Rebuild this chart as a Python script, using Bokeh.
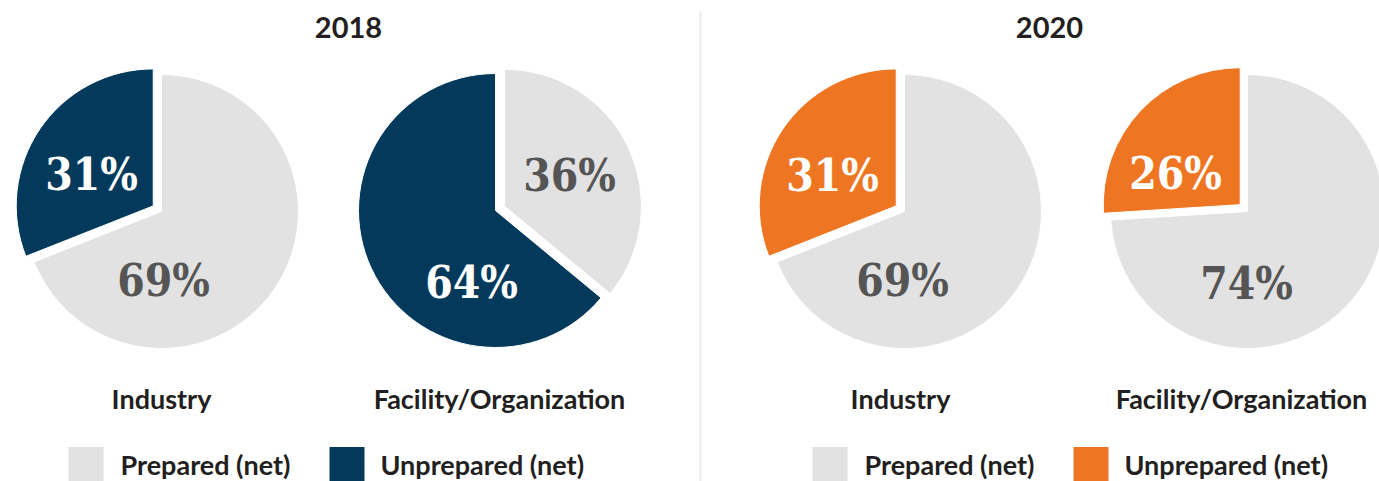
import math
from bokeh.plotting import figure
from bokeh.models import Range1d, ColumnDataSource
from bokeh.core.properties import value
from bokeh.embed import file_html
from bokeh.resources import INLINE

# ---------------- data ----------------
years = ["2018", "2020"]
categories = ["Industry", "Facility/Organization"]
series_names = ["Prepared (net)", "Unprepared (net)"]
# one entry per pie: 2018 Industry, 2018 Facility, 2020 Industry, 2020 Facility
pie_year = ["2018", "2018", "2020", "2020"]
pie_category = ["Industry", "Facility/Organization", "Industry", "Facility/Organization"]
prepared = [69, 36, 69, 74]
unprepared = [31, 64, 31, 26]

# ---------------- style / layout ----------------
GREY = "#E2E2E2"
NAVY = "#033A5C"
ORANGE = "#EE7623"
LABEL_DARK = "#555555"
TEXT = "#231F20"
year_color = {"2018": NAVY, "2020": ORANGE}

W, H = 1379, 481
def X(sx):  # screen x -> data x
    return sx
def Y(sy):  # screen y -> data y
    return H - sy

R = 137
OFFSET = 10
pie_centers = [(161, 211), (495, 210), (904, 211), (1247, 211)]
# label centres (screen) : (unprepared label, prepared label)
unprep_label_pos = [(91, 174), (471, 282), (832, 175), (1175, 173)]
prep_label_pos = [(163, 280), (569, 175), (902, 280), (1246, 283)]
title_pos = {"2018": (348, 27), "2020": (1049, 27)}
cat_label_pos = [(161, 398), (499, 398), (900, 398), (1241, 398)]
legend_pos = {"2018": [(68, 120), (329, 380)], "2020": [(812, 864), (1073, 1124)]}
LEG_Y = 464
SQ = 35

p = figure(width=W, height=H, x_range=Range1d(0, W), y_range=Range1d(0, H),
           x_axis_type=None, y_axis_type=None, toolbar_location=None,
           output_backend="svg", min_border=0)
p.grid.visible = False
p.outline_line_color = None
p.background_fill_color = "white"
p.border_fill_color = "white"

wx, wy, ws, we, wc = [], [], [], [], []
tx, ty, tt, tc = [], [], [], []
top = math.pi / 2
for i in range(4):
    cx, cy = X(pie_centers[i][0]), Y(pie_centers[i][1])
    total = prepared[i] + unprepared[i]
    a_u = 2 * math.pi * unprepared[i] / total
    # unprepared: anticlockwise from 12 o'clock
    slices = [(top, top + a_u, year_color[pie_year[i]], unprepared[i]),
              (top + a_u, top + 2 * math.pi, GREY, prepared[i])]
    smaller = min(prepared[i], unprepared[i])
    for (s, e, c, v) in slices:
        dx = dy = 0.0
        if v == smaller:
            mid = (s + e) / 2
            dx, dy = OFFSET * math.cos(mid), OFFSET * math.sin(mid)
        wx.append(cx + dx); wy.append(cy + dy); ws.append(s); we.append(e); wc.append(c)
    tx.append(X(unprep_label_pos[i][0])); ty.append(Y(unprep_label_pos[i][1]))
    tt.append(f"{unprepared[i]}%"); tc.append("white")
    tx.append(X(prep_label_pos[i][0])); ty.append(Y(prep_label_pos[i][1]))
    tt.append(f"{prepared[i]}%"); tc.append(LABEL_DARK)

wsrc = ColumnDataSource(dict(x=wx, y=wy, s=ws, e=we, c=wc))
p.wedge(x="x", y="y", radius=R, start_angle="s", end_angle="e", direction="anticlock",
        fill_color="c", line_color="white", line_width=1, source=wsrc)

tsrc = ColumnDataSource(dict(x=tx, y=ty, t=tt, c=tc))
p.text(x="x", y="y", text="t", text_color="c", text_font=value("DejaVu Serif Condensed"),
       text_font_style="bold", text_font_size="44px", text_align="center",
       text_baseline="middle", source=tsrc)

# divider
p.segment(x0=[X(700)], y0=[Y(11)], x1=[X(700)], y1=[Y(481)], line_color="#EBEBEB", line_width=2)

# titles
p.text(x=[X(title_pos[y][0]) for y in years], y=[Y(title_pos[y][1]) for y in years], text=years,
       text_color=TEXT, text_font=value("Lato"), text_font_style="bold", text_font_size="29px",
       text_align="center", text_baseline="middle")

# category labels
p.text(x=[X(c[0]) for c in cat_label_pos], y=[Y(c[1]) for c in cat_label_pos], text=pie_category,
       text_color=TEXT, text_font=value("Lato"), text_font_style="bold", text_font_size="27px",
       text_align="center", text_baseline="middle")

# legends
lx, ly, lc, ltx, lty, ltt = [], [], [], [], [], []
for yr in years:
    for k, (sqx, txx) in enumerate(legend_pos[yr]):
        lx.append(X(sqx + SQ / 2)); ly.append(Y(LEG_Y)); lc.append(GREY if k == 0 else year_color[yr])
        ltx.append(X(txx)); lty.append(Y(LEG_Y)); ltt.append(series_names[k])
p.rect(x=lx, y=ly, width=SQ, height=SQ, fill_color=lc, line_color=None)
p.text(x=ltx, y=lty, text=ltt, text_color=TEXT, text_font=value("Lato"), text_font_style="bold",
       text_font_size="27px", text_align="left", text_baseline="middle")

open("out.html", "w").write(file_html(p, INLINE))
